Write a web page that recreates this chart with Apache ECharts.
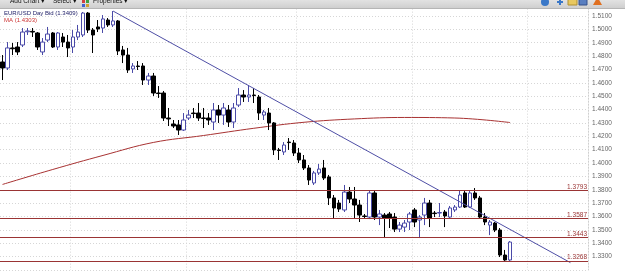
<!DOCTYPE html>
<html>
<head>
<meta charset="utf-8">
<script src="https://cdn.jsdelivr.net/npm/echarts@6/dist/echarts.min.js"></script>
<style>
  html, body { margin: 0; padding: 0; background: #fff; }
  #chart { width: 625px; height: 274px; }
</style>
</head>
<body>
<div id="chart"></div>
<script>
// daily candles, [open, close, low, high]
const candles = [
  [1.4756, 1.4711, 1.4621, 1.4808],
  [1.4711, 1.4861, 1.4696, 1.4905],
  [1.4861, 1.4855, 1.4808, 1.4898],
  [1.4868, 1.4831, 1.4808, 1.4905],
  [1.4883, 1.4980, 1.4868, 1.5010],
  [1.4982, 1.4988, 1.4958, 1.5010],
  [1.4985, 1.4980, 1.4943, 1.5010],
  [1.4973, 1.4868, 1.4846, 1.4980],
  [1.4831, 1.4905, 1.4808, 1.4935],
  [1.4920, 1.4965, 1.4905, 1.5018],
  [1.4973, 1.4868, 1.4861, 1.4980],
  [1.4868, 1.4973, 1.4846, 1.4980],
  [1.4943, 1.4905, 1.4868, 1.4973],
  [1.4905, 1.4861, 1.4793, 1.4958],
  [1.4868, 1.4943, 1.4823, 1.4995],
  [1.4943, 1.4980, 1.4920, 1.5033],
  [1.4958, 1.5122, 1.4943, 1.5130],
  [1.5122, 1.4995, 1.4973, 1.5130],
  [1.4995, 1.4958, 1.4823, 1.5010],
  [1.5018, 1.5003, 1.4980, 1.5070],
  [1.5010, 1.5078, 1.4973, 1.5107],
  [1.5070, 1.5033, 1.5018, 1.5085],
  [1.5033, 1.5063, 1.5018, 1.5137],
  [1.5063, 1.4838, 1.4808, 1.5070],
  [1.4846, 1.4808, 1.4748, 1.4876],
  [1.4808, 1.4696, 1.4674, 1.4861],
  [1.4704, 1.4726, 1.4674, 1.4748],
  [1.4726, 1.4722, 1.4696, 1.4763],
  [1.4726, 1.4621, 1.4584, 1.4748],
  [1.4621, 1.4651, 1.4584, 1.4674],
  [1.4651, 1.4524, 1.4502, 1.4674],
  [1.4524, 1.4520, 1.4487, 1.4576],
  [1.4524, 1.4337, 1.4315, 1.4539],
  [1.4337, 1.4330, 1.4277, 1.4412],
  [1.4292, 1.4277, 1.4262, 1.4322],
  [1.4285, 1.4247, 1.4210, 1.4322],
  [1.4247, 1.4322, 1.4240, 1.4374],
  [1.4337, 1.4359, 1.4322, 1.4397],
  [1.4374, 1.4370, 1.4337, 1.4412],
  [1.4374, 1.4337, 1.4315, 1.4449],
  [1.4337, 1.4334, 1.4262, 1.4412],
  [1.4337, 1.4322, 1.4285, 1.4374],
  [1.4307, 1.4397, 1.4247, 1.4449],
  [1.4397, 1.4359, 1.4300, 1.4434],
  [1.4359, 1.4412, 1.4285, 1.4449],
  [1.4397, 1.4307, 1.4270, 1.4434],
  [1.4307, 1.4412, 1.4262, 1.4449],
  [1.4434, 1.4509, 1.4419, 1.4561],
  [1.4509, 1.4494, 1.4457, 1.4546],
  [1.4494, 1.4509, 1.4457, 1.4584],
  [1.4509, 1.4505, 1.4449, 1.4561],
  [1.4494, 1.4374, 1.4322, 1.4509],
  [1.4359, 1.4382, 1.4322, 1.4397],
  [1.4374, 1.4300, 1.4247, 1.4412],
  [1.4300, 1.4098, 1.4060, 1.4307],
  [1.4098, 1.4094, 1.4023, 1.4113],
  [1.4083, 1.4135, 1.4060, 1.4157],
  [1.4157, 1.4153, 1.4098, 1.4187],
  [1.4150, 1.4075, 1.4053, 1.4172],
  [1.4075, 1.4023, 1.4000, 1.4113],
  [1.4023, 1.3963, 1.3948, 1.4060],
  [1.3963, 1.3873, 1.3836, 1.3985],
  [1.3851, 1.3926, 1.3836, 1.3941],
  [1.3926, 1.3955, 1.3911, 1.3993],
  [1.3963, 1.3888, 1.3873, 1.4023],
  [1.3896, 1.3739, 1.3686, 1.3911],
  [1.3739, 1.3664, 1.3589, 1.3761],
  [1.3701, 1.3656, 1.3634, 1.3724],
  [1.3649, 1.3783, 1.3634, 1.3836],
  [1.3783, 1.3731, 1.3701, 1.3821],
  [1.3731, 1.3686, 1.3589, 1.3821],
  [1.3686, 1.3611, 1.3559, 1.3724],
  [1.3604, 1.3600, 1.3589, 1.3619],
  [1.3596, 1.3776, 1.3581, 1.3791],
  [1.3776, 1.3596, 1.3574, 1.3791],
  [1.3596, 1.3619, 1.3536, 1.3649],
  [1.3611, 1.3589, 1.3439, 1.3626],
  [1.3619, 1.3589, 1.3514, 1.3634],
  [1.3596, 1.3506, 1.3484, 1.3626],
  [1.3506, 1.3536, 1.3484, 1.3559],
  [1.3521, 1.3551, 1.3484, 1.3574],
  [1.3559, 1.3619, 1.3499, 1.3634],
  [1.3649, 1.3559, 1.3521, 1.3664],
  [1.3574, 1.3596, 1.3439, 1.3611],
  [1.3611, 1.3701, 1.3536, 1.3739],
  [1.3701, 1.3589, 1.3521, 1.3724],
  [1.3626, 1.3622, 1.3596, 1.3641],
  [1.3626, 1.3630, 1.3596, 1.3701],
  [1.3634, 1.3604, 1.3521, 1.3649],
  [1.3596, 1.3664, 1.3589, 1.3679],
  [1.3649, 1.3671, 1.3634, 1.3686],
  [1.3671, 1.3761, 1.3664, 1.3791],
  [1.3776, 1.3671, 1.3664, 1.3793],
  [1.3671, 1.3776, 1.3664, 1.3791],
  [1.3776, 1.3739, 1.3724, 1.3813],
  [1.3739, 1.3596, 1.3589, 1.3754],
  [1.3596, 1.3559, 1.3536, 1.3626],
  [1.3536, 1.3559, 1.3461, 1.3574],
  [1.3551, 1.3499, 1.3484, 1.3559],
  [1.3499, 1.3312, 1.3297, 1.3514],
  [1.3312, 1.3275, 1.3268, 1.3350],
  [1.3275, 1.3409, 1.3260, 1.3417]
];

// empty days to the right of the last candle
const slotCount = 117;

// moving average read at a few days
const maDays = [0, 10, 20, 30, 40, 50, 60, 70, 80, 90, 101];
const maValues = [1.3840, 1.3952, 1.4057, 1.4154, 1.4206, 1.4260, 1.4305, 1.4330, 1.4341, 1.4337, 1.4303];

// trend line from the high to the lower right
const trendDays = [22, 113];
const trendValues = [1.5137, 1.3255];

// horizontal levels
const levels = [1.3793, 1.3587, 1.3443, 1.3268];

// days where a month starts (vertical grid)
const monthStarts = [14, 37, 59, 82, 105];

const lastClose = candles[candles.length - 1][1];
const lastMa = maValues[maValues.length - 1];

const categories = [];
for (let i = 0; i < slotCount; i++) categories.push(String(i));

const chart = echarts.init(document.getElementById('chart'));

const font = 'Liberation Sans, Arial, sans-serif';
const levelColor = '#9a3434';

const option = {
  animation: false,
  backgroundColor: '#fff',
  grid: { left: 0, right: 37, top: 2.63, bottom: 4 },
  xAxis: {
    type: 'category',
    data: categories,
    boundaryGap: true,
    axisLine: { show: false },
    axisTick: { show: false },
    axisLabel: { show: false },
    splitLine: {
      show: true,
      interval: (idx) => monthStarts.includes(idx),
      lineStyle: { color: '#d6d6d6', type: [1, 2], width: 1 }
    }
  },
  yAxis: {
    type: 'value',
    position: 'right',
    min: 1.32,
    max: 1.52,
    interval: 0.01,
    scale: true,
    axisLine: { show: true, lineStyle: { color: '#cfcfcf', type: [1, 2] } },
    axisTick: { show: false },
    axisLabel: {
      color: '#666',
      fontSize: 6.5,
      fontFamily: font,
      margin: 4,
      formatter: (v) => (v > 1.515 || v < 1.325) ? '' : v.toFixed(4)
    },
    splitLine: { show: true, lineStyle: { color: '#d6d6d6', type: [1, 2], width: 1 } }
  },
  series: [
    {
      type: 'candlestick',
      data: candles,
      barWidth: 4,
      itemStyle: {
        color: '#ffffff',
        color0: '#000000',
        borderColor: '#4a4aa8',
        borderColor0: '#000000',
        borderWidth: 1
      },
      z: 3
    },
    {
      type: 'line',
      data: maDays.map((d, i) => [d, maValues[i]]),
      smooth: 0.4,
      showSymbol: false,
      lineStyle: { color: '#a83232', width: 1 },
      z: 2
    },
    {
      type: 'line',
      data: trendDays.map((d, i) => [d, trendValues[i]]),
      showSymbol: false,
      itemStyle: { color: levelColor },
      lineStyle: { color: '#4f4fa6', width: 1 },
      markLine: {
        silent: true,
        symbol: 'none',
        animation: false,
        precision: 4,
        lineStyle: { color: levelColor, type: 'solid', width: 1 },
        label: {
          position: 'insideEndTop',
          distance: [1, 0],
          color: levelColor,
          fontSize: 6.5,
          fontFamily: font,
          formatter: (p) => Number(p.value).toFixed(4)
        },
        data: levels.map((v) => ({ yAxis: v }))
      },
      z: 4
    }
  ],
  graphic: {
    elements: [
      {
        type: 'rect', z: 100,
        shape: { x: 0, y: 0, width: 625, height: 8 },
        style: {
          fill: new echarts.graphic.LinearGradient(0, 0, 0, 1, [
            { offset: 0, color: '#e2e2e2' },
            { offset: 1, color: '#cfcfcf' }
          ])
        }
      },
      { type: 'rect', z: 101, shape: { x: 0, y: 8, width: 625, height: 1 }, style: { fill: '#b5b5b5' } },
      { type: 'text', z: 102, x: 10, y: 5, style: { text: 'Add Chart ▾', fill: '#111', font: '6.5px ' + font, verticalAlign: 'bottom' } },
      { type: 'text', z: 102, x: 53, y: 5, style: { text: 'Select ▾', fill: '#111', font: '6.5px ' + font, verticalAlign: 'bottom' } },
      { type: 'rect', z: 102, shape: { x: 82, y: 0, width: 3, height: 3 }, style: { fill: '#d04040' } },
      { type: 'rect', z: 102, shape: { x: 86, y: 0, width: 3, height: 3 }, style: { fill: '#40a040' } },
      { type: 'rect', z: 102, shape: { x: 82, y: 4, width: 3, height: 3 }, style: { fill: '#4060d0' } },
      { type: 'rect', z: 102, shape: { x: 86, y: 4, width: 3, height: 3 }, style: { fill: '#d0a030' } },
      { type: 'text', z: 102, x: 93, y: 5, style: { text: 'Properties ▾', fill: '#111', font: '6.5px ' + font, verticalAlign: 'bottom' } },
      { type: 'circle', z: 102, shape: { cx: 545, cy: 2, r: 4 }, style: { fill: '#3a78c8' } },
      { type: 'rect', z: 102, shape: { x: 559, y: -1, width: 2, height: 6 }, style: { fill: '#3a78c8' } },
      { type: 'rect', z: 102, shape: { x: 557, y: 1, width: 6, height: 2 }, style: { fill: '#3a78c8' } },
      { type: 'rect', z: 102, shape: { x: 568, y: -2, width: 9, height: 7 }, style: { fill: '#e8c860', stroke: '#b09030', lineWidth: 1 } },
      { type: 'rect', z: 102, shape: { x: 579, y: -2, width: 8, height: 7 }, style: { fill: '#5a7fc0', stroke: '#34508a', lineWidth: 1 } },
      { type: 'polygon', z: 102, shape: { points: [[593, 5], [597.5, -3], [602, 5]] }, style: { fill: '#e07020' } },
      {
        type: 'text', z: 50, x: 4, y: 13,
        style: { text: 'EUR/USD Day Bid (' + lastClose.toFixed(4) + ')', fill: '#22226a', font: '6px ' + font, verticalAlign: 'middle' }
      },
      {
        type: 'text', z: 50, x: 4, y: 20,
        style: { text: 'MA (' + lastMa.toFixed(4) + ')', fill: '#cc3333', font: '6px ' + font, verticalAlign: 'middle' }
      }
    ]
  }
};

chart.setOption(option);
</script>
</body>
</html>
